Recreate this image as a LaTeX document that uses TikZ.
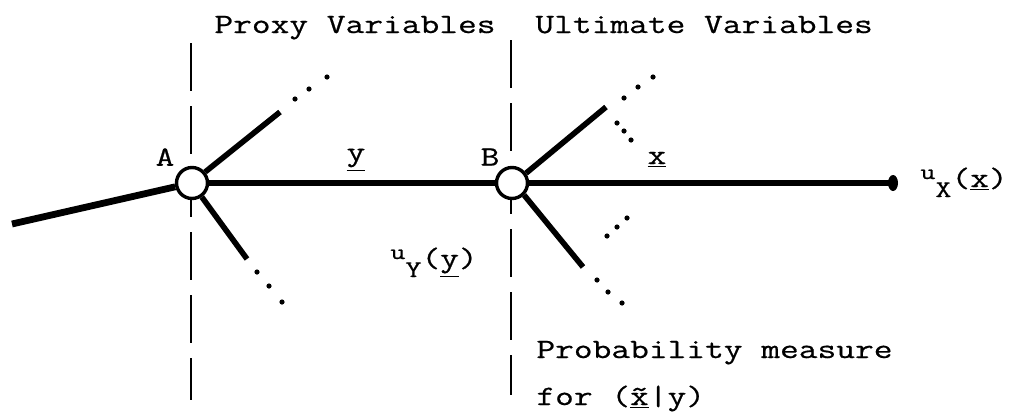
\documentclass[tikz,border=0pt]{standalone}
\usepackage{fontspec}
\setmonofont{Latin Modern Mono}[FakeStretch=1.3, FakeBold=0.6]
\newcommand{\util}[1]{\raisebox{4pt}{\fontsize{11}{11}\selectfont u}\raisebox{-5pt}{\fontsize{12}{12}\selectfont #1}}
\tikzset{
  chance/.style={circle, draw, fill=white, line width=1.7pt, minimum size=15.5pt, inner sep=0pt},
  branch/.style={line width=2.8pt},
  divider/.style={line width=1pt, dash pattern=on 24pt off 7.5pt},
  lbl/.style={font=\ttfamily\fontsize{14}{17}\selectfont, inner sep=0pt},
}
\begin{document}
\begin{tikzpicture}[x=0.5pt, y=-0.5pt]
  \useasboundingbox (0,0) rectangle (1017,418);
  % stage dividers
  \coordinate (tA) at (191,43);
  \coordinate (bA) at (191,400);
  \coordinate (tB) at (511,40);
  \coordinate (bB) at (511,395);
  \draw[divider] (tA) -- (bA);
  \draw[divider] (tB) -- (bB);
  % chance nodes
  \node[chance] (A) at (192,183) {};
  \node[chance] (B) at (512,183) {};
  \coordinate (root) at (12,224);
  \coordinate (end) at (893,183);
  \coordinate (a1) at (280,112);
  \coordinate (a2) at (247,259);
  \coordinate (b1) at (606,107);
  \coordinate (b2) at (583,267);
  \draw[line width=3.4pt] (root) -- (A);
  \draw[line width=2.6pt] (A.east) -- (B.west);
  \draw[branch] (B.east) -- (end);
  \fill (end) ellipse (2.5pt and 4pt);
  \draw[branch] (A.40) -- (a1);
  \draw[branch] (A.-55) -- (a2);
  \draw[branch] (B.35) -- (b1);
  \draw[branch] (B.-45) -- (b2);
  % omitted branches
  \foreach \p in {(295,99),(309,89),(327,77),(257,272),(269,286),(282,302),
                  (624,98),(638,87),(653,77),(617,123),(624,131),(631,140),
                  (597,280),(608,292),(622,303),(607,236),(617,227),(627,218)}
    \fill \p circle (1.3pt);
  % labels
  \node[lbl, anchor=base west] (proxy) at (214,33) {Proxy Variables};
  \node[lbl, anchor=base west] (ultimate) at (535,33) {Ultimate Variables};
  \node[lbl] (labA) at (165,157) {A};
  \node[lbl] (labB) at (490,157) {B};
  \node[lbl] (ylab) at (356,160) {\underline{y}};
  \node[lbl] (xlab) at (657,160) {\underline{x}};
  \node[lbl, anchor=base west] (uy) at (390,267) {\util{Y}(\underline{y})};
  \node[lbl, anchor=base west] (ux) at (920,187) {\util{X}(\underline{x})};
  \node[lbl, anchor=base west] (prob) at (536,358) {Probability measure};
  \node[lbl, anchor=base west] (cond) at (536,405) {for (\underline{\~{x}}|y)};
\end{tikzpicture}
\end{document}
